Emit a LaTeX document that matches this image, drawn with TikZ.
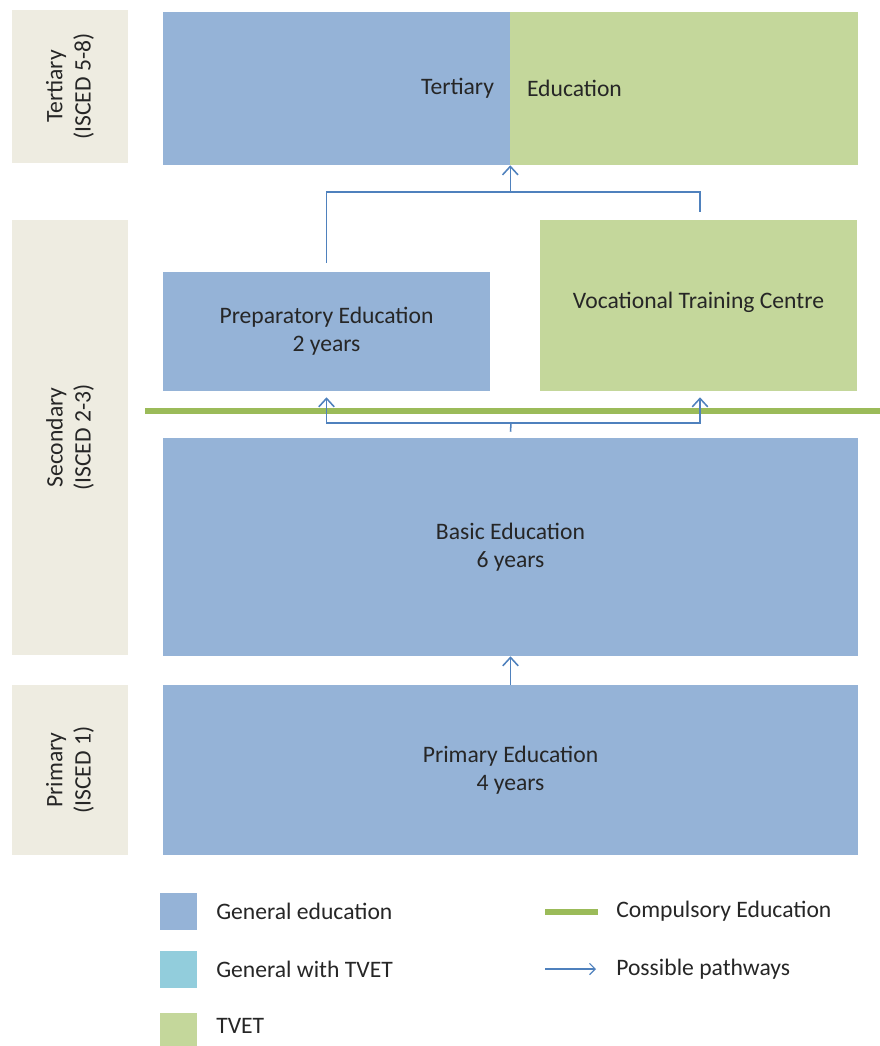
\documentclass[tikz,border=0pt]{standalone}
\usepackage{fontspec}
\setmainfont{Carlito}
\usepackage{tikz}
\usetikzlibrary{positioning,calc,arrows.meta}
\usepackage{xcolor}
\definecolor{genBlue}{RGB}{149,179,215}
\definecolor{mixBlue}{RGB}{146,205,220}
\definecolor{tvetGreen}{RGB}{196,215,155}
\definecolor{levelBeige}{RGB}{238,236,225}
\definecolor{compGreen}{RGB}{155,187,89}
\definecolor{pathBlue}{RGB}{79,129,189}
\definecolor{textGray}{RGB}{38,38,38}

\begin{document}
\begin{tikzpicture}[
                box/.style={inner sep=0pt,align=center,font=\fontsize{16.8}{20}\selectfont,text=textGray},
                genbox/.style={box,fill=genBlue},
                tvetbox/.style={box,fill=tvetGreen},
                level/.style={box,fill=levelBeige,minimum width=2.9cm},
                boxtext/.style={inner sep=0pt,font=\fontsize{16.8}{20}\selectfont,text=textGray},
                pathline/.style={draw=pathBlue,line width=1.1pt},
                patharrow/.style={pathline,-{Straight Barb[length=6pt,width=11pt]}},
                legsq/.style={inner sep=0pt,minimum width=0.925cm,minimum height=0.925cm}
            ]
                \useasboundingbox (0,0) rectangle (22,-26.15);
                % levels
                \node[level,minimum height=3.825cm] (levTert) at (1.75,-2.1625) {};
                \node[rotate=90,boxtext,align=center] (levTertText) at (levTert) {Tertiary\\(ISCED 5-8)};
                \node[level,minimum height=10.875cm] (levSec) at (1.75,-10.9375) {};
                \node[rotate=90,boxtext,align=center] (levSecText) at (levSec) {Secondary\\(ISCED 2-3)};
                \node[level,minimum height=4.25cm] (levPrim) at (1.75,-19.25) {};
                \node[rotate=90,boxtext,align=center] (levPrimText) at (levPrim) {Primary\\(ISCED 1)};
                % programmes
                \node[genbox,minimum width=8.675cm,minimum height=3.825cm] (tertGen) at (8.4125,-2.2125) {};
                \node[tvetbox,minimum width=8.7cm,minimum height=3.825cm] (tertVoc) at (17.1,-2.2125) {};
                \node[boxtext,anchor=east] (tertGenText) at ([xshift=-0.4cm]tertGen.east) {Tertiary};
                \node[boxtext,anchor=west] (tertVocText) at ([xshift=0.425cm]tertVoc.west) {Education};
                \node[genbox,minimum width=8.175cm,minimum height=2.975cm] (prep) at (8.1625,-8.2875) {Preparatory Education\\2 years};
                \node[tvetbox,minimum width=7.925cm,minimum height=4.275cm] (voc) at (17.4625,-7.6375) {};
                \node[boxtext] (vocText) at (17.4625,-7.55) {Vocational Training Centre};
                \node[genbox,minimum width=17.375cm,minimum height=5.45cm] (basic) at (12.7625,-13.675) {Basic Education\\6 years};
                \node[genbox,minimum width=17.375cm,minimum height=4.25cm] (primary) at (12.7625,-19.25) {Primary Education\\4 years};
                % compulsory line
                \coordinate (compStart) at (3.625,-10.275);
                \coordinate (compEnd) at (22,-10.275);
                \draw[compGreen,line width=3.6pt] (compStart) -- (compEnd);
                % pathways
                \coordinate (joinTop) at (tertGen.south east |- 0,-4.8);
                \draw[pathline] ([yshift=0.225cm]prep.north) |- (joinTop) -| ([xshift=0.0375cm,yshift=0.2cm]voc.north);
                \draw[patharrow] (joinTop) -- (tertGen.south east);
                \coordinate (joinBasic) at (12.775,-10.575);
                \draw[pathline] ([yshift=0.15cm]basic.north) -- (joinBasic);
                \draw[patharrow] (joinBasic) -| ([yshift=-0.15cm]prep.south);
                \draw[patharrow] (joinBasic) -| ([xshift=0.0375cm,yshift=-0.15cm]voc.south);
                \draw[patharrow] (primary.north) -- (basic.south);
                % legend
                \node[legsq,fill=genBlue] (legGen) at (4.45,-22.775) {};
                \node[boxtext,anchor=west] (legGenText) at (5.4,-22.775) {General education};
                \node[legsq,fill=mixBlue] (legMix) at (4.45,-24.2375) {};
                \node[boxtext,anchor=west] (legMixText) at (5.4,-24.2375) {General with TVET};
                \node[legsq,fill=tvetGreen,minimum height=0.825cm] (legTvet) at (4.45,-25.7375) {};
                \node[boxtext,anchor=west] (legTvetText) at (5.4,-25.65) {TVET};
                \coordinate (legCompA) at (13.625,-22.8);
                \coordinate (legCompB) at (14.95,-22.8);
                \draw[compGreen,line width=3.6pt] (legCompA) -- (legCompB);
                \node[boxtext,anchor=west] (legCompText) at (15.4,-22.775) {Compulsory Education};
                \coordinate (legPathA) at (13.625,-24.225);
                \coordinate (legPathB) at (14.9,-24.225);
                \draw[pathline,line width=0.8pt,-{Straight Barb[length=4pt,width=8pt]}] (legPathA) -- (legPathB);
                \node[boxtext,anchor=west] (legPathText) at (15.4,-24.2375) {Possible pathways};
            \end{tikzpicture}
\end{document}
